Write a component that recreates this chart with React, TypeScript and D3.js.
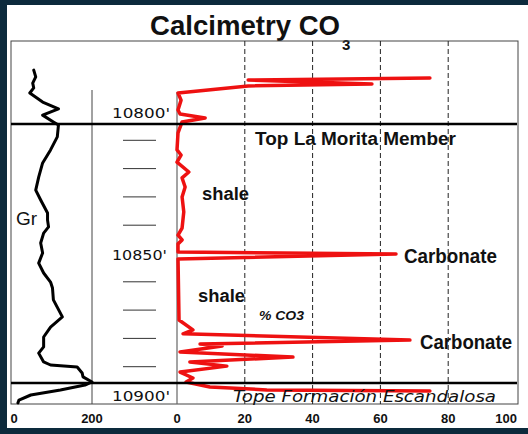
import React from "react";
import * as d3 from "d3";

const co3Depth = [10788.0, 10788.7, 10790.1, 10790.8, 10793.3, 10795.8, 10799.3, 10800.7, 10802.1, 10803.5, 10807.4, 10813.4, 10815.2, 10817.7, 10821.2, 10823.3, 10826.5, 10830.0, 10835.3, 10841.0, 10843.5, 10845.2, 10846.6, 10849.5, 10850.2, 10851.9, 10873.5, 10877.0, 10878.4, 10880.6, 10882.0, 10882.7, 10884.8, 10886.6, 10888.3, 10889.8, 10891.9, 10894.0, 10895.4, 10897.2, 10898.2, 10898.6];
const co3Value = [74.6, 21, 57.5, 21, 0.3, 1.2, 0.3, 0.9, 8.3, 1.5, 0.3, 0, 1.2, 0, 3.5, 1.5, 2.4, 1.5, 2, 1.5, 0.3, 1.5, 0.3, 0.3, 64.6, 0.3, 0.6, 4.7, 1.8, 68.7, 6.8, 13.3, 0.9, 34.2, 3.8, 14.7, 0.9, 4.7, 2.7, 9.7, 26.5, 74.6];

const grDepth = [10785.2, 10787.6, 10789.8, 10791.5, 10793.3, 10796.5, 10798.9, 10801.1, 10803.5, 10804.6, 10808.8, 10813.4, 10818.0, 10823.0, 10827.6, 10831.1, 10835.7, 10838.2, 10840.6, 10842.8, 10846.3, 10849.8, 10853.4, 10856.9, 10860.1, 10862.2, 10866.4, 10872.4, 10876.0, 10879.5, 10883.0, 10885.2, 10888.3, 10889.4, 10890.1, 10892.2, 10893.6, 10895.4, 10896.5, 10898.2, 10900.0, 10901.8, 10902.8];
const grValue = [50.6, 55.7, 48, 50.6, 40.5, 73.4, 114, 73.4, 101, 114, 111, 93.7, 73.4, 63.3, 55.7, 68.4, 86, 86, 88.6, 76, 68.4, 73.4, 63.3, 76, 93.7, 98.7, 101, 124, 93.7, 76, 76, 63.3, 76, 93.7, 162, 174.7, 177, 200, 182, 119, 43, 12.7, 10];

const co3Ticks = [0, 20, 40, 60, 80, 100];
const co3Grid = [20, 40, 60, 80];
const grTicks = [0, 200];
const depthLabels = [10800, 10850, 10900];
const depthMinor = [10810, 10820, 10830, 10840, 10860, 10870, 10880, 10890];
const markerDepths = [10804.2, 10895.8];

const FONT = "'Liberation Sans', Arial, sans-serif";

export default function App() {
  const W = 528, H = 434;
  const y = d3.scaleLinear().domain([10800, 10900]).range([112, 395]);
  const xC = d3.scaleLinear().domain([0, 100]).range([177, 516]);
  const xG = d3.scaleLinear().domain([0, 200]).range([14, 92]);
  const frame = { l: 11, t: 41, r: 518, b: 404 };

  const co3Pts: [number, number][] = co3Depth.map((d, i) => [xC(co3Value[i]), y(d)]);
  const grPts: [number, number][] = grDepth.map((d, i) => [xG(grValue[i]), y(d)]);
  const line = d3.line<[number, number]>().curve(d3.curveLinear);

  return (
    <div style={{ position: "absolute", left: 0, top: 0 }}>
      <svg width={W} height={H} style={{ display: "block" }}>
        <rect x={0} y={0} width={W} height={H} fill="#0c2a3c" />
        <rect x={7} y={5} width={W - 7} height={423} fill="#ffffff" />

        <text x={150} y={35} fontFamily={FONT} fontWeight="bold" fontSize={27} textLength={190} lengthAdjust="spacingAndGlyphs" fill="#111">Calcimetry CO</text>
        <text x={342} y={50} fontFamily={FONT} fontWeight="bold" fontSize={15} fill="#111">3</text>

        <rect x={frame.l} y={frame.t} width={frame.r - frame.l} height={frame.b - frame.t} fill="none" stroke="#444" strokeWidth={1} />

        {co3Grid.map((v) => (
          <line key={v} x1={xC(v)} x2={xC(v)} y1={frame.t} y2={frame.b} stroke="#222" strokeWidth={1} strokeDasharray="5,3" />
        ))}

        <line x1={xG(200)} x2={xG(200)} y1={90} y2={frame.b} stroke="#444" strokeWidth={1} />
        <line x1={xC(0)} x2={xC(0)} y1={92} y2={frame.b} stroke="#666" strokeWidth={1.2} />

        {depthMinor.map((d) => (
          <line key={d} x1={123} x2={156} y1={y(d)} y2={y(d)} stroke="#333" strokeWidth={1} />
        ))}
        {depthLabels.map((d, i) => (
          <text key={d} x={112} y={y(d) + 6} fontFamily="'DejaVu Sans', sans-serif" fontSize={14} textLength={i === 1 ? 55 : 58} lengthAdjust="spacingAndGlyphs" fill="#111">{`${d}'`}</text>
        ))}

        <path d={line(grPts) || ""} fill="none" stroke="#000" strokeWidth={3} strokeLinejoin="round" strokeLinecap="round" />
        <text x={16} y={225} fontFamily={FONT} fontSize={19} fill="#111">Gr</text>

        <path d={line(co3Pts) || ""} fill="none" stroke="#ee1111" strokeWidth={3.5} strokeLinejoin="round" strokeLinecap="round" />

        {markerDepths.map((d) => (
          <line key={d} x1={frame.l} x2={frame.r - 1} y1={y(d)} y2={y(d)} stroke="#000" strokeWidth={2.5} />
        ))}

        <text x={255} y={145} fontFamily={FONT} fontWeight="bold" fontSize={18} textLength={201} lengthAdjust="spacingAndGlyphs" fill="#111">Top La Morita Member</text>
        <text x={202} y={200} fontFamily={FONT} fontWeight="bold" fontSize={18} textLength={47} lengthAdjust="spacingAndGlyphs" fill="#111">shale</text>
        <text x={198} y={302} fontFamily={FONT} fontWeight="bold" fontSize={18} textLength={47} lengthAdjust="spacingAndGlyphs" fill="#111">shale</text>
        <text x={404} y={263} fontFamily={FONT} fontWeight="bold" fontSize={21} textLength={93} lengthAdjust="spacingAndGlyphs" fill="#111">Carbonate</text>
        <text x={420} y={349} fontFamily={FONT} fontWeight="bold" fontSize={21} textLength={92} lengthAdjust="spacingAndGlyphs" fill="#111">Carbonate</text>
        <text x={259} y={320} fontFamily={FONT} fontWeight="bold" fontStyle="italic" fontSize={12} textLength={45} lengthAdjust="spacingAndGlyphs" fill="#111">% CO3</text>
        <text x={233} y={402} fontFamily="'DejaVu Sans', sans-serif" fontStyle="italic" fontSize={16} textLength={263} lengthAdjust="spacingAndGlyphs" fill="#111">Tope Formación Escandalosa</text>

        {grTicks.map((v) => (
          <text key={"g" + v} x={xG(v)} y={423} textAnchor="middle" fontFamily={FONT} fontWeight="bold" fontSize={13} fill="#111">{v}</text>
        ))}
        {co3Ticks.map((v) => (
          <text key={"c" + v} x={v === 100 ? xC(v) + 1 : xC(v)} y={423} textAnchor={v === 100 ? "end" : "middle"} fontFamily={FONT} fontWeight="bold" fontSize={13} fill="#111">{v}</text>
        ))}
      </svg>
    </div>
  );
}
